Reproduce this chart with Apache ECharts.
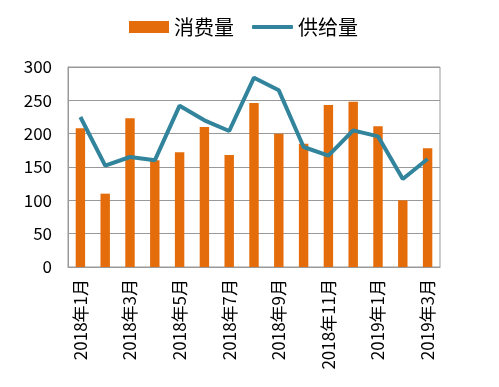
<!DOCTYPE html>
<html><head><meta charset="utf-8">
<script src="https://cdn.jsdelivr.net/npm/echarts@6/dist/echarts.min.js"></script>
<style>html,body{margin:0;padding:0;background:#fff}#c{width:499px;height:387px}</style>
</head><body><div id="c"></div>
<script>
var categories = ['2018年1月','2018年2月','2018年3月','2018年4月','2018年5月','2018年6月','2018年7月','2018年8月','2018年9月','2018年10月','2018年11月','2018年12月','2019年1月','2019年2月','2019年3月'];
var consumption = [208, 110, 223, 160, 172, 210, 168, 246, 200, 185, 243, 248, 211, 100, 178];
var supply = [225, 152, 165, 160, 242, 220, 204, 284, 265, 180, 167, 205, 196, 132, 162];
var yTicks = [0, 50, 100, 150, 200, 250, 300];

var font = '"Noto Sans CJK SC", "Noto Sans", sans-serif';
var chart = echarts.init(document.getElementById('c'), null, {renderer: 'canvas'});
chart.setOption({
  animation: false,
  textStyle: {fontFamily: font},
  legend: [{
    top: 12, left: 124, itemGap: 4,
    itemWidth: 40, itemHeight: 12,
    textStyle: {fontSize: 20, color: '#000', fontFamily: font},
    data: [{name: '消费量', icon: 'rect'}]
  }, {
    top: 12, left: 247, itemGap: 4,
    itemWidth: 41, itemHeight: 4,
    textStyle: {fontSize: 20, color: '#000', fontFamily: font},
    data: [{name: '供给量', icon: 'roundRect'}]
  }],
  grid: {left: 68, right: 59, top: 67, bottom: 120, show: true, borderColor: '#999', borderWidth: 1},
  xAxis: {
    type: 'category', data: categories, boundaryGap: true,
    axisLine: {lineStyle: {color: '#999'}},
    axisTick: {interval: 1, length: 5, lineStyle: {color: '#999'}},
    axisLabel: {interval: 1, rotate: 90, fontSize: 17, color: '#000', fontFamily: font, margin: 12}
  },
  yAxis: {
    type: 'value', min: yTicks[0], max: yTicks[yTicks.length - 1], interval: 50,
    axisLine: {show: true, lineStyle: {color: '#999'}},
    axisTick: {show: false},
    splitLine: {lineStyle: {color: '#999'}},
    axisLabel: {fontSize: 17, color: '#000', fontFamily: font, margin: 16}
  },
  series: [
    {name: '消费量', type: 'bar', data: consumption, barWidth: '38%', itemStyle: {color: '#E46C0A'}},
    {name: '供给量', type: 'line', data: supply, symbol: 'none', lineStyle: {color: '#31849B', width: 4}, itemStyle: {color: '#31849B'}}
  ]
});
</script></body></html>
